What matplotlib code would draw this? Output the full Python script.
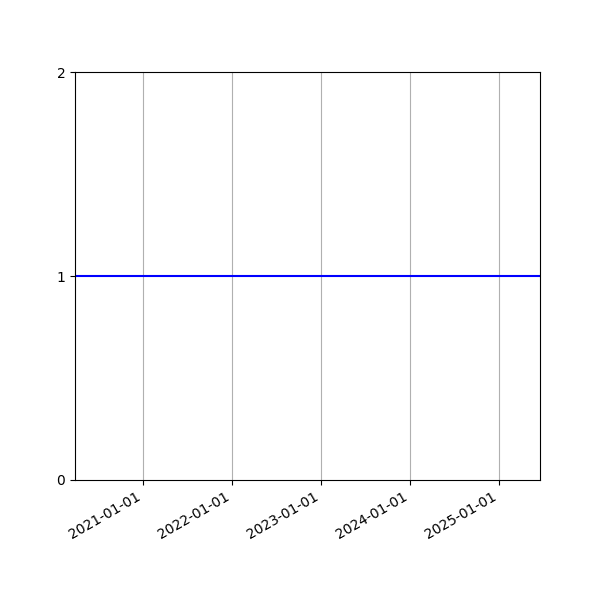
import matplotlib
matplotlib.use("Agg")
import matplotlib.pyplot as plt
import matplotlib.dates as mdates
import datetime as dt

dates = [dt.datetime(2020, 3, 27), dt.datetime(2025, 6, 20)]
values = [1, 1]

fig, ax = plt.subplots(figsize=(6, 6), dpi=100)
ax.plot(dates, values, color="blue", linewidth=1.5)
ax.set_xlim(dates[0], dates[-1])
ax.set_ylim(0, 2)
ax.set_yticks([0, 1, 2])
ax.xaxis.set_major_locator(mdates.YearLocator())
ax.xaxis.set_major_formatter(mdates.DateFormatter("%Y-%m-%d"))
ax.grid(True, axis="x")
fig.autofmt_xdate()
fig.savefig("out.png", dpi=100)
